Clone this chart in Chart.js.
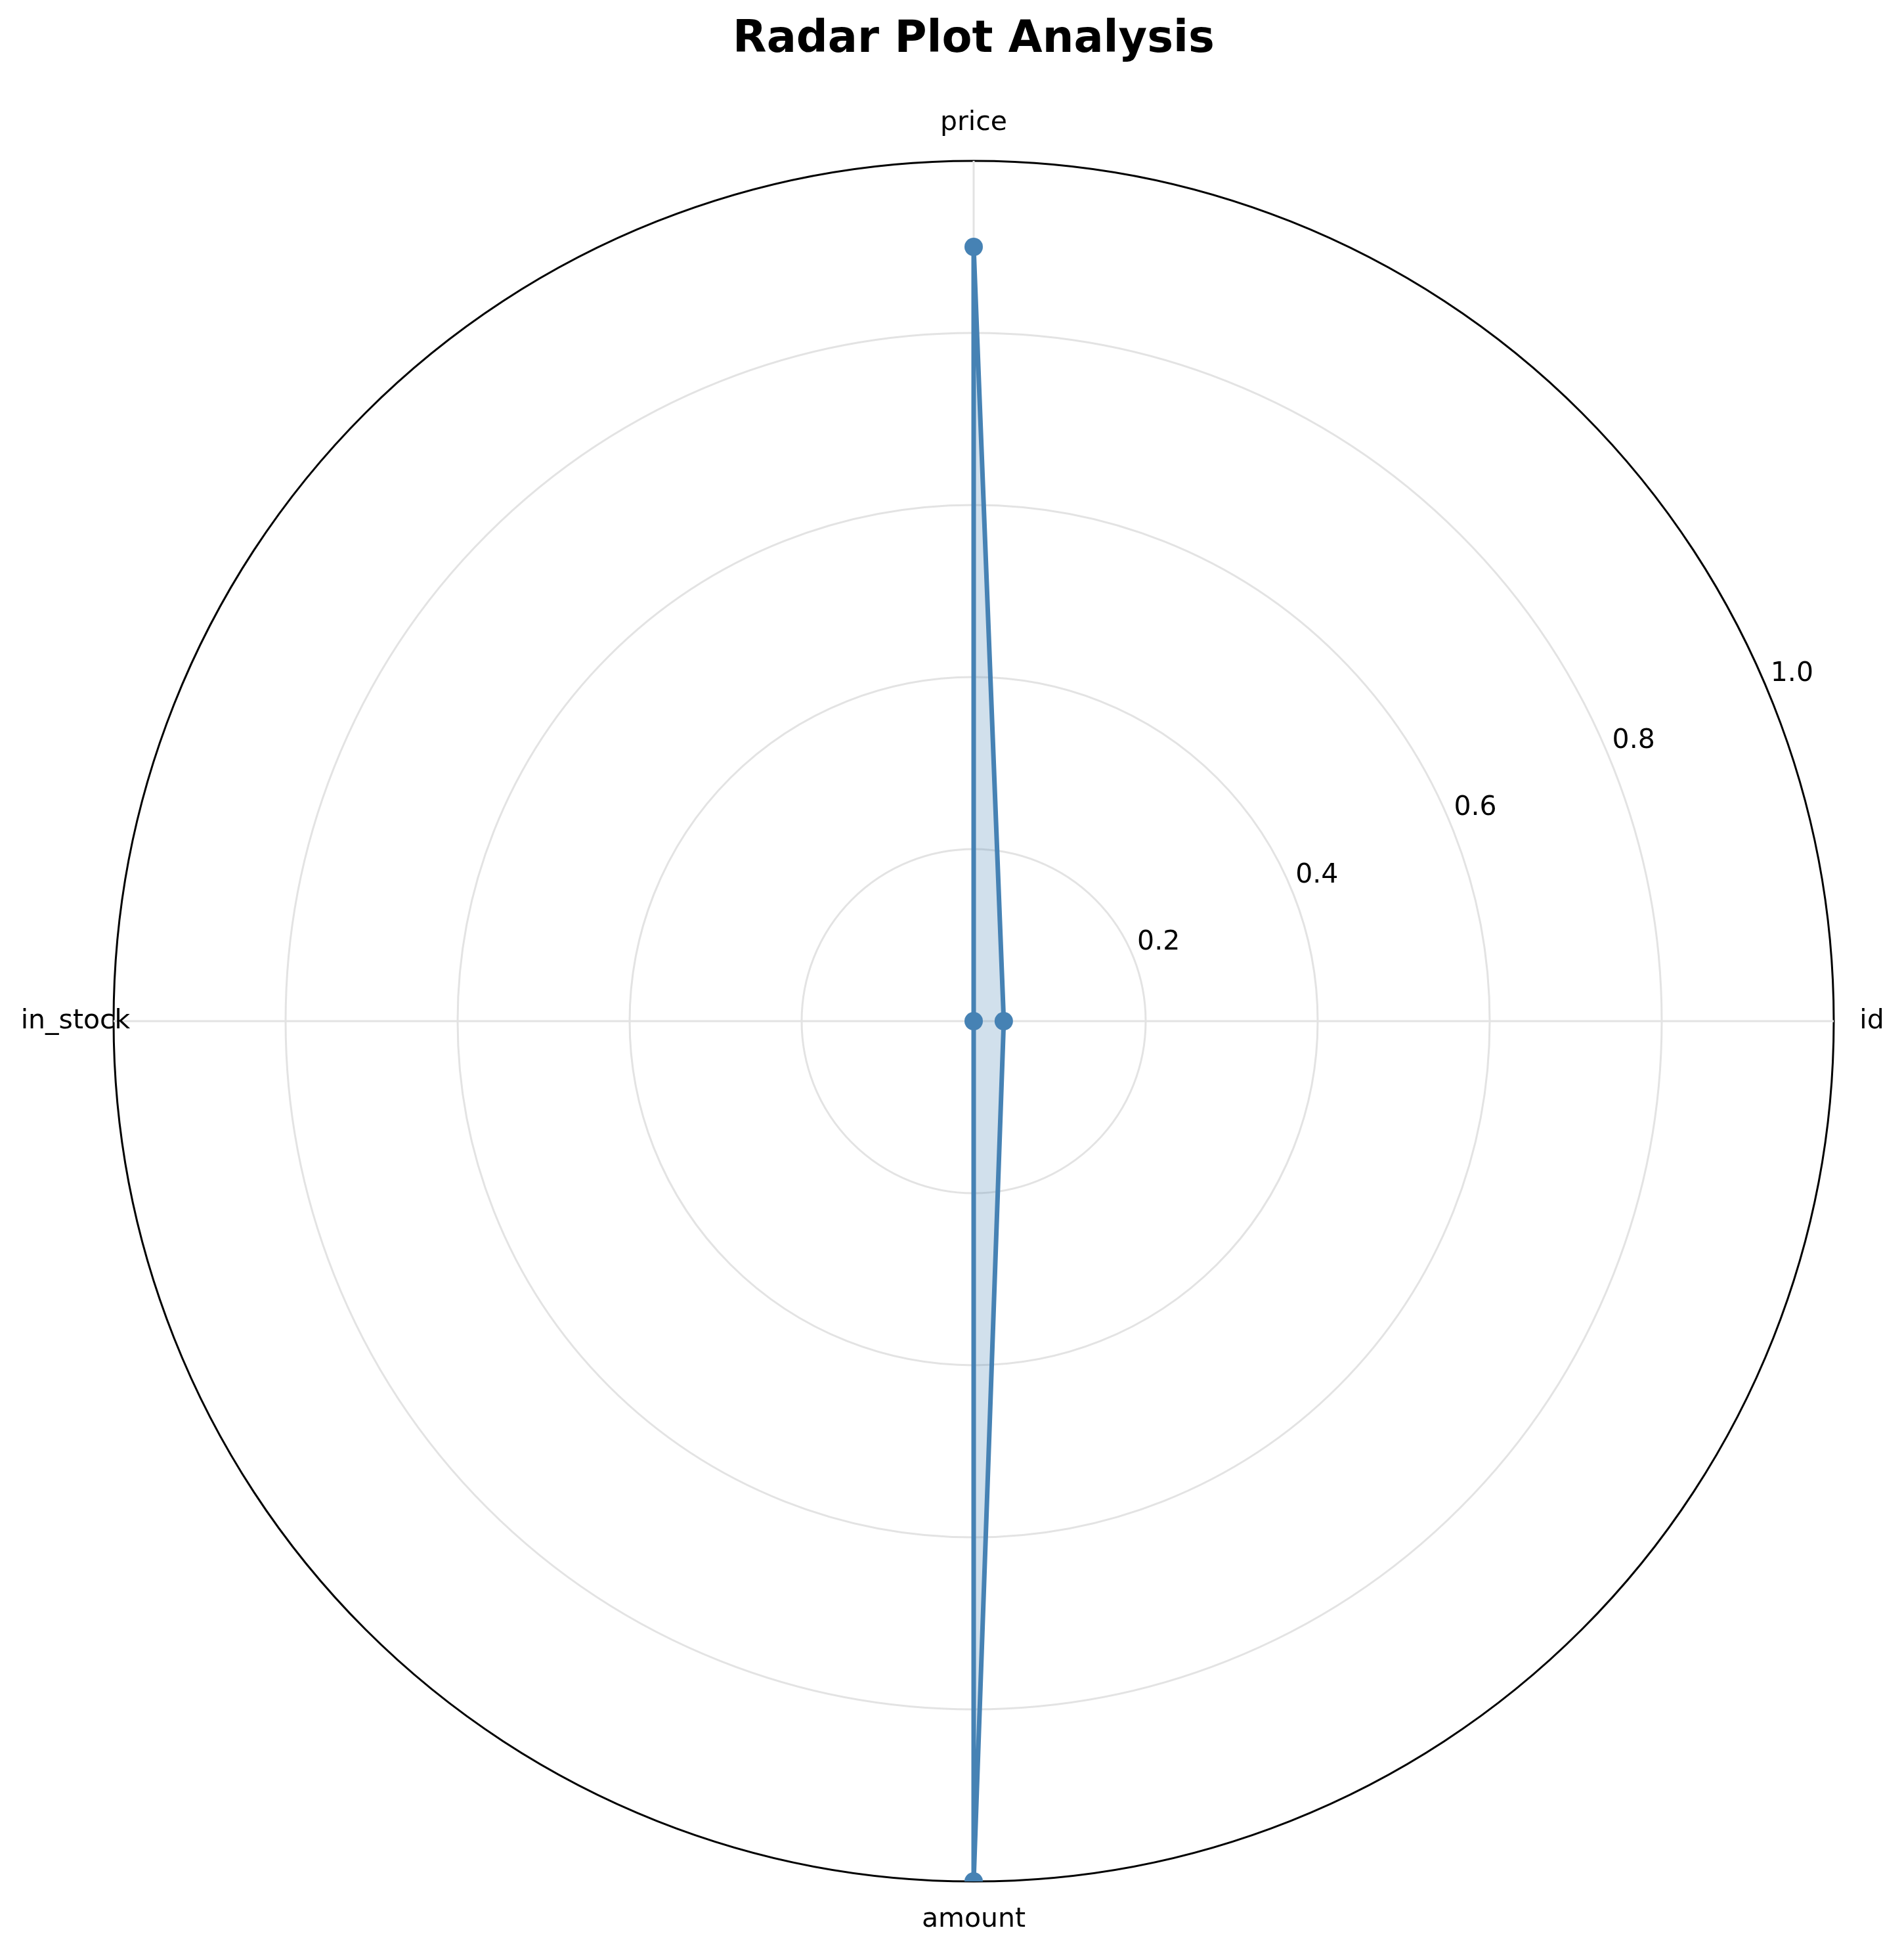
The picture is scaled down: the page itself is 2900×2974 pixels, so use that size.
<!DOCTYPE html>
<html>
<head>
<meta charset="utf-8">
<title>Radar Plot Analysis</title>
<script src="https://cdn.jsdelivr.net/npm/chart.js@4/dist/chart.umd.min.js"></script>
<style>
    html, body { margin: 0; padding: 0; background: #ffffff; overflow: hidden; }
    #wrap { width: 2900px; height: 2974px; position: relative; }
</style>
</head>
<body>
<div id="wrap"><canvas id="radarChart"></canvas></div>
<script>
// categories in clockwise order starting at the top
const categories = ['price', 'id', 'amount', 'in_stock'];
const seriesValues = [0.90, 0.035, 1.0, 0.0];
const radialTicks = [0.2, 0.4, 0.6, 0.8, 1.0];
const tickLabels = ['0.2', '0.4', '0.6', '0.8', '1.0'];

const lineColor = '#4682b4';
const fillColor = 'rgba(70, 130, 180, 0.25)';
const gridColor = '#e3e3e3';
const fontFamily = '"DejaVu Sans", Verdana, sans-serif';

// matplotlib-like labels: category names centred outside the rim,
// radial tick labels along a ray at ~23 degrees
const polarLabels = {
    id: 'polarLabels',
    afterDraw(chart) {
        const scale = chart.scales.r;
        const ctx = chart.ctx;
        ctx.save();
        ctx.fillStyle = '#000000';
        ctx.font = '41px ' + fontFamily;
        ctx.textAlign = 'center';
        ctx.textBaseline = 'middle';

        categories.forEach((name, i) => {
            const p = scale.getPointPosition(i, scale.drawingArea + 58);
            ctx.fillText(name, p.x, p.y);
        });

        const theta = 23 * Math.PI / 180;
        radialTicks.forEach((v, i) => {
            const r = scale.getDistanceFromCenterForValue(v) + 44;
            const x = scale.xCenter + Math.cos(theta) * r;
            const y = scale.yCenter - Math.sin(theta) * r;
            ctx.fillText(tickLabels[i], x, y);
        });
        ctx.restore();
    }
};

const ctx = document.getElementById('radarChart').getContext('2d');
const radarChart = new Chart(ctx, {
    type: 'radar',
    data: {
        labels: categories,
        datasets: [{
            label: 'values',
            data: seriesValues,
            borderColor: lineColor,
            backgroundColor: fillColor,
            borderWidth: 7,
            borderJoinStyle: 'round',
            fill: true,
            tension: 0,
            clip: 0,
            pointRadius: 14,
            pointHoverRadius: 14,
            pointBackgroundColor: lineColor,
            pointBorderWidth: 0
        }]
    },
    options: {
        responsive: true,
        maintainAspectRatio: false,
        devicePixelRatio: 1,
        animation: false,
        layout: {
            padding: { left: 173, right: 107, top: 0, bottom: 109 }
        },
        plugins: {
            legend: { display: false },
            tooltip: { enabled: false },
            title: {
                display: true,
                text: 'Radar Plot Analysis',
                color: '#000000',
                font: { family: fontFamily, size: 67, weight: 'bold', lineHeight: 1.2 },
                padding: { top: 21, bottom: 143.6 }
            }
        },
        scales: {
            r: {
                min: 0,
                max: 1,
                ticks: {
                    stepSize: 0.2,
                    display: false
                },
                pointLabels: { display: false },
                grid: {
                    circular: true,
                    lineWidth: 3,
                    color: function(context) {
                        return Math.abs(context.tick.value - 1) < 1e-9 ? '#000000' : gridColor;
                    }
                },
                angleLines: {
                    display: true,
                    color: gridColor,
                    lineWidth: 3
                }
            }
        }
    },
    plugins: [polarLabels]
});
</script>
</body>
</html>
